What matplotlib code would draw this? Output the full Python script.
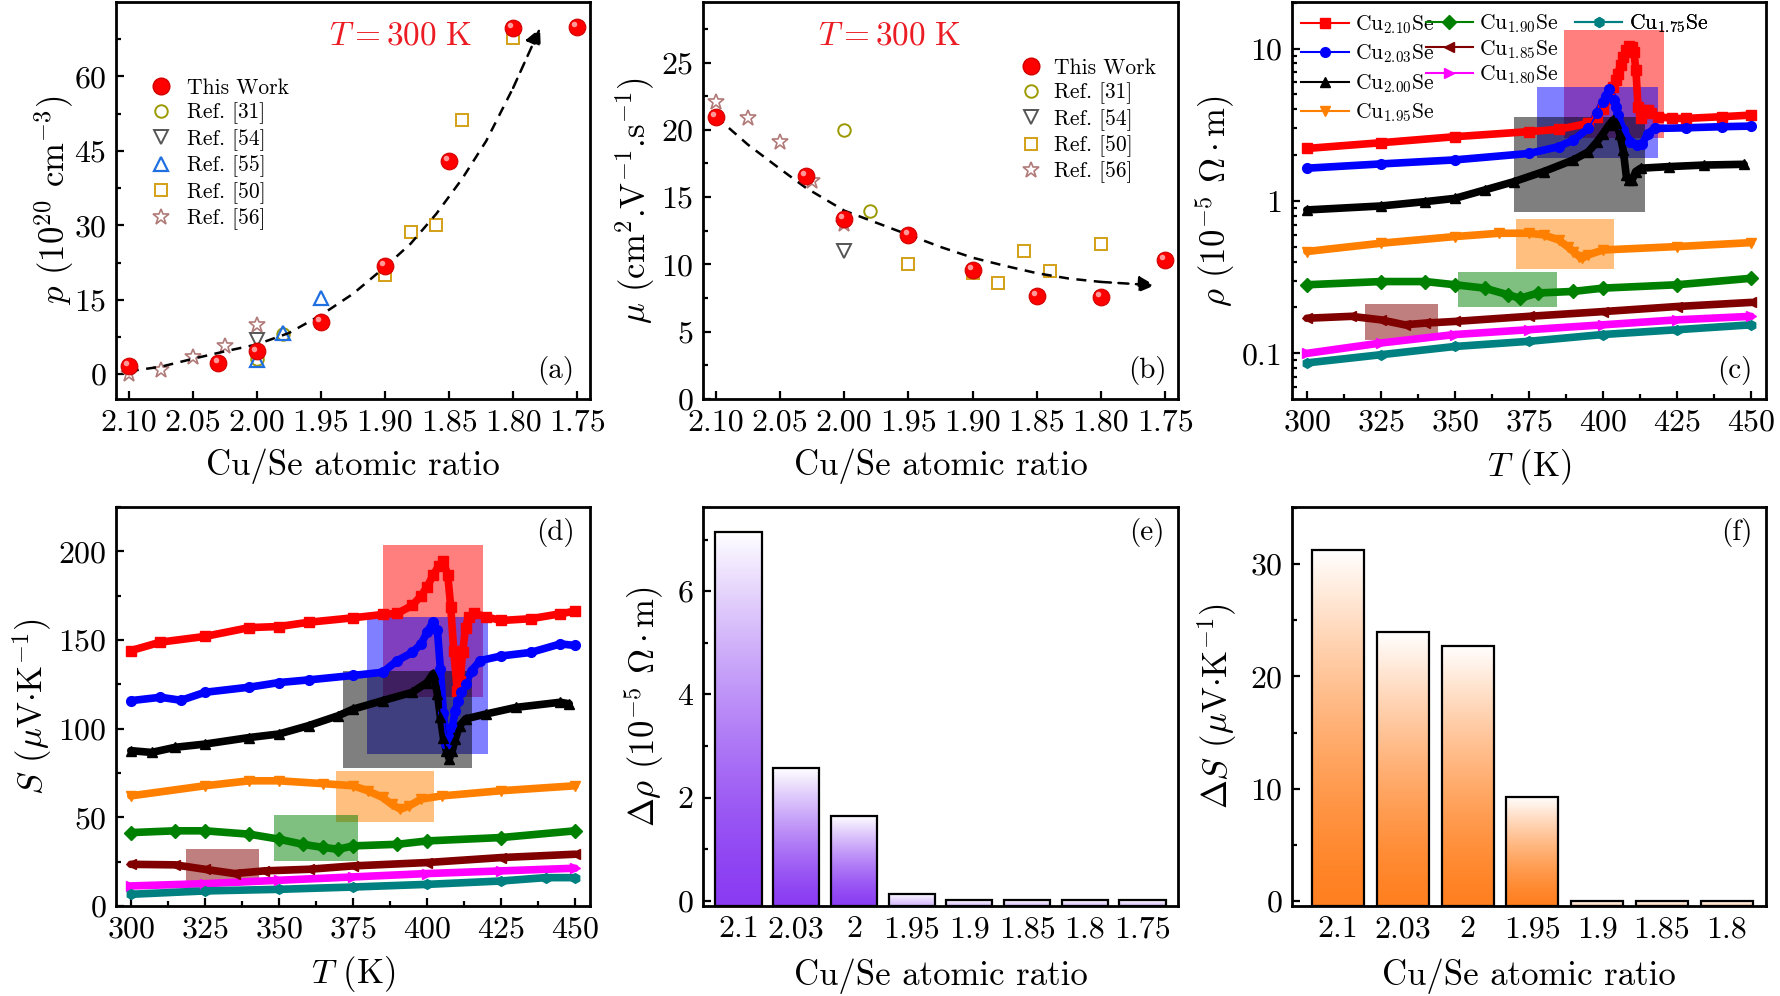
import numpy as np
import matplotlib
matplotlib.use('Agg')
import matplotlib.pyplot as plt
from matplotlib.lines import Line2D
from matplotlib.patches import Rectangle
from matplotlib.colors import to_rgb
from matplotlib.ticker import MultipleLocator, FixedLocator, FuncFormatter, NullFormatter, FormatStrFormatter
from matplotlib.transforms import offset_copy

plt.rcParams['font.family'] = ['cmr10', 'DejaVu Serif']
plt.rcParams['mathtext.fontset'] = 'cm'
plt.rcParams['axes.formatter.use_mathtext'] = True
plt.rcParams['axes.linewidth'] = 2.0
plt.rcParams['axes.unicode_minus'] = False

# ---------------- (a) carrier concentration p at 300 K ----------------
ratio_tw = [2.10, 2.03, 2.00, 1.95, 1.90, 1.85, 1.80, 1.75]
p_tw = [1.7, 2.3, 4.6, 10.5, 21.9, 43.0, 69.8, 70.0]
p31_x, p31_y = [2.00, 1.98], [3.1, 8.0]
p54_x, p54_y = [2.00], [6.8]
p55_x, p55_y = [2.00, 1.98, 1.95], [2.9, 8.3, 15.3]
p50_x, p50_y = [1.90, 1.88, 1.86, 1.84, 1.80], [19.9, 28.6, 30.1, 51.2, 67.8]
p56_x, p56_y = [2.10, 2.075, 2.05, 2.025, 2.00], [0.1, 0.9, 3.5, 5.7, 10.0]
guide_p_x = [2.10, 2.075, 2.05, 2.025, 2.00, 1.975, 1.95, 1.925, 1.90, 1.88, 1.86, 1.84, 1.821, 1.80, 1.779]
guide_p_y = [0.6, 1.5, 3.1, 4.6, 6.0, 8.3, 11.9, 16.2, 21.6, 26.3, 32.3, 39.3, 47.0, 57.7, 69.7]

# ---------------- (b) mobility at 300 K ----------------
mu_tw = [20.97, 16.6, 13.4, 12.17, 9.6, 7.64, 7.57, 10.36]
mu31_x, mu31_y = [2.00, 1.98], [20.0, 14.0]
mu54_x, mu54_y = [2.00], [11.0]
mu50_x, mu50_y = [1.95, 1.90, 1.88, 1.86, 1.84, 1.80], [10.04, 9.35, 8.65, 11.0, 9.5, 11.52]
mu56_x, mu56_y = [2.10, 2.075, 2.05, 2.025, 2.00], [22.08, 20.87, 19.11, 16.2, 13.0]
guide_mu_x = [2.10, 2.087, 2.075, 2.05, 2.03, 2.00, 1.975, 1.95, 1.925, 1.90, 1.875, 1.85, 1.825, 1.80, 1.758]
guide_mu_y = [21.0, 19.9, 18.9, 17.1, 15.7, 14.0, 13.1, 12.2, 11.3, 10.5, 9.9, 9.35, 8.95, 8.7, 8.45]

# ---------------- (c) resistivity vs T ----------------
samples = ['2.10', '2.03', '2.00', '1.95', '1.90', '1.85', '1.80', '1.75']
colors = ['#ff0000', '#0000ff', '#000000', '#ff8000', '#008000', '#800000', '#ff00ff', '#008080']
markers = ['s', 'o', '^', 'v', 'D', '<', '>', 'h']

rho_T = {
    '2.10': [300, 325, 350, 375, 385, 395, 398, 400, 402, 403.3, 404.2, 405, 405.9, 406.8, 407.8, 408.7,
             409.7, 410.4, 411.1, 411.8, 412.7, 413.9, 415.1, 416.3, 418.6, 423.4, 428, 440, 450],
    '2.03': [300, 325, 350, 375, 385, 390, 395, 398, 400, 401, 402.1, 403.8, 404.4, 405, 406.8, 409.2,
             411.5, 413.3, 415.1, 417.4, 428, 440, 450],
    '2.00': [300, 325, 340, 350, 360, 370, 380, 390, 395, 398, 400, 402, 403.3, 404.4, 405.6, 406.8,
             407.8, 408.6, 409.8, 411, 412.7, 422.2, 434, 447.6],
    '1.95': [300, 325, 350, 365, 375, 380, 385, 388, 390, 392, 393, 395, 400, 425, 450],
    '1.90': [300, 325, 340, 350, 360, 368, 372, 378, 390, 400, 425, 450],
    '1.85': [300, 315, 325, 333, 340, 350, 375, 400, 425, 450],
    '1.80': [300, 325, 350, 375, 400, 425, 450],
    '1.75': [300, 325, 350, 375, 400, 425, 450],
}
rho = {
    '2.10': [2.21, 2.41, 2.64, 2.85, 2.95, 3.23, 3.57, 4.04, 4.70, 5.6, 6.2, 6.85, 7.8, 8.8, 9.75, 10.4,
             10.2, 9.5, 7.2, 4.15, 3.48, 3.94, 3.98, 3.75, 3.57, 3.48, 3.48, 3.57, 3.66],
    '2.03': [1.64, 1.75, 1.86, 2.05, 2.27, 2.51, 2.99, 3.75, 4.47, 4.9, 5.4, 4.58, 4.15, 3.66, 2.92, 2.45,
             2.33, 2.38, 2.77, 2.99, 3.02, 3.07, 3.10],
    '2.00': [0.873, 0.927, 0.99, 1.04, 1.18, 1.34, 1.56, 1.86, 2.1, 2.45, 2.77, 3.15, 3.39, 3.23, 2.77, 2.16,
             1.48, 1.37, 1.37, 1.56, 1.64, 1.68, 1.72, 1.74],
    '1.95': [0.466, 0.528, 0.584, 0.614, 0.614, 0.599, 0.555, 0.502, 0.466, 0.432, 0.421, 0.443, 0.477, 0.502, 0.533],
    '1.90': [0.282, 0.296, 0.296, 0.282, 0.268, 0.242, 0.230, 0.249, 0.255, 0.268, 0.282, 0.311],
    '1.85': [0.170, 0.175, 0.166, 0.154, 0.158, 0.162, 0.175, 0.188, 0.203, 0.216],
    '1.80': [0.100, 0.117, 0.133, 0.143, 0.154, 0.166, 0.175],
    '1.75': [0.0866, 0.098, 0.111, 0.120, 0.133, 0.143, 0.154],
}
# shaded transition windows (T0, T1, low, high)
rho_box_T0 = [386.7, 377.8, 370.1, 370.7, 351.0, 319.5]
rho_box_T1 = [420.6, 418.6, 414.1, 403.8, 384.3, 344.3]
rho_box_lo = [2.57, 1.92, 0.843, 0.359, 0.200, 0.1218]
rho_box_hi = [13.3, 5.61, 3.57, 0.762, 0.344, 0.211]

# ---------------- (d) Seebeck vs T ----------------
S_T = {
    '2.10': [300, 310, 325, 340, 350, 360, 375, 385, 390, 395, 398, 400, 402, 404, 405.5, 407, 408, 409,
             410.2, 411.2, 412, 413, 414, 416, 420, 425, 435, 445, 450],
    '2.03': [300, 310, 317, 325, 340, 350, 360, 375, 385, 390, 395, 398, 400, 402, 403.5, 404.5, 405.5,
             406.5, 407.5, 408.5, 409.5, 410.5, 411.5, 413, 415, 418, 425, 435, 445, 450],
    '2.00': [300, 307, 315, 325, 340, 350, 360, 370, 375, 385, 395, 400, 402, 403.5, 404.5, 405.5, 406.5,
             407.5, 408.5, 409.5, 411, 413, 420, 430, 445, 448],
    '1.95': [300, 325, 340, 350, 365, 375, 380, 385, 388, 391, 394, 398, 405, 425, 450],
    '1.90': [300, 315, 325, 340, 350, 358, 365, 370, 375, 390, 400, 425, 450],
    '1.85': [300, 315, 325, 335, 345, 360, 375, 400, 425, 450],
    '1.80': [300, 325, 350, 375, 400, 425, 450],
    '1.75': [300, 325, 350, 375, 400, 425, 440, 450],
}
S = {
    '2.10': [144, 148.8, 152, 157, 157.6, 160, 162.5, 164.4, 165, 169.5, 175, 180, 186.4, 192, 194.5, 186.4,
             168.5, 144, 121.5, 127, 143, 157, 163, 165, 163, 161, 162, 164.8, 166.3],
    '2.03': [115.8, 117.7, 116, 120.5, 123.4, 126, 127.5, 130, 131.8, 138.4, 143, 147.8, 154.4, 160, 155.4,
             133.7, 109, 91.3, 95, 100.7, 110, 115.8, 120.5, 125, 132.8, 138.4, 141, 143, 147.8, 146.9],
    '2.00': [87.6, 86.6, 89.5, 91.3, 95, 97, 101.7, 107.3, 111, 115.8, 120.5, 126, 131, 119.6, 106.4, 95,
             87.6, 82.9, 87.6, 94, 101.7, 105.5, 108.3, 112, 114.9, 114],
    '1.95': [62.1, 67.8, 70.6, 70.6, 69, 67.8, 65, 61.2, 57.4, 54.6, 56.5, 60.3, 62.1, 65, 67.8],
    '1.90': [41.4, 42.4, 42.4, 40.5, 37.7, 34.8, 33, 32, 33.9, 34.8, 36.7, 38.6, 42.4],
    '1.85': [23.5, 23.2, 20.7, 18.3, 19.8, 20.7, 22.6, 24.5, 27.3, 29.2],
    '1.80': [11.3, 12.6, 14.5, 16.4, 18.3, 19.8, 21.3],
    '1.75': [6.6, 8.5, 9.4, 10.7, 12.2, 14.1, 16, 16],
}
S_box_T0 = [385.1, 379.7, 371.5, 369.1, 348.5, 318.6]
S_box_T1 = [418.8, 420.7, 415.3, 402.3, 376.7, 343.2]
S_box_lo = [117.7, 85.7, 77.6, 47.5, 25.4, 13.7]
S_box_hi = [203.4, 162.9, 132.4, 76.3, 51.2, 32.0]

# ---------------- (e), (f) transition amplitudes ----------------
drho_cats = ['2.1', '2.03', '2', '1.95', '1.9', '1.85', '1.8', '1.75']
drho_vals = [7.15, 2.57, 1.645, 0.13, 0.01, 0.01, 0.01, 0.01]
dS_cats = ['2.1', '2.03', '2', '1.95', '1.9', '1.85', '1.8']
dS_vals = [31.25, 23.94, 22.75, 9.27, 0.03, 0.03, 0.03]

TICK_FS = 23
LAB_FS = 25
LEG_FS = 15.5
RED_TXT = '#ec1c24'


def style_axis(ax):
    ax.tick_params(which='both', direction='in', top=False, right=False,
                   labelsize=TICK_FS, width=1.6, pad=7)
    ax.tick_params(which='major', length=6)
    ax.tick_params(which='minor', length=3.5)


def panel_tag(ax, tag, x, y):
    ax.text(x, y, tag, transform=ax.transAxes, fontsize=21, ha='center', va='center')


def sphere(ax, x, y):
    ax.plot(x, y, 'o', ms=12, mfc='#ff0000', mec='#d00000', mew=0.8, ls='none', zorder=6)
    hl = offset_copy(ax.transData, fig=fig, x=-2.0, y=2.0, units='points')
    ax.plot(x, y, 'o', ms=4.0, mfc='white', mec='none', alpha=0.6, ls='none', zorder=7, transform=hl)


def guide(ax, gx, gy):
    ax.plot(gx[:-1], gy[:-1], ls=(0, (4, 3)), color='k', lw=1.8, zorder=4)
    ax.annotate('', xy=(gx[-1], gy[-1]), xytext=(gx[-2], gy[-2]),
                arrowprops=dict(arrowstyle='-|>', color='k', lw=1.8, mutation_scale=24,
                                linestyle=(0, (4, 3)), shrinkA=0, shrinkB=0), zorder=4)


fig = plt.figure(figsize=(17.8, 9.96), dpi=100)
W, H = 1780.0, 996.0


def box(x0, x1, y0, y1):
    return [x0 / W, 1 - y1 / H, (x1 - x0) / W, (y1 - y0) / H]


axa = fig.add_axes(box(116, 590, 2, 399))
axb = fig.add_axes(box(703, 1178, 2, 399))
axc = fig.add_axes(box(1292, 1766, 2, 399))
axd = fig.add_axes(box(116, 590, 507, 906))
axe = fig.add_axes(box(703, 1178, 507, 906))
axf = fig.add_axes(box(1292, 1766, 507, 906))

ref_style = {
    '31': dict(marker='o', mfc='none', mec='#9c9a00', ms=9, mew=1.4),
    '54': dict(marker='v', mfc='none', mec='#555555', ms=10, mew=1.4),
    '55': dict(marker='^', mfc='none', mec='#1f6fe0', ms=10, mew=1.6),
    '50': dict(marker='s', mfc='none', mec='#d4a017', ms=8.5, mew=1.4),
    '56': dict(marker='*', mfc='none', mec='#b07a78', ms=12, mew=1.2),
}

# ---- (a)
ax = axa
guide(ax, guide_p_x, guide_p_y)
ax.plot(p31_x, p31_y, ls='none', zorder=3, **ref_style['31'])
ax.plot(p54_x, p54_y, ls='none', zorder=3, **ref_style['54'])
ax.plot(p55_x, p55_y, ls='none', zorder=3, **ref_style['55'])
ax.plot(p50_x, p50_y, ls='none', zorder=3, **ref_style['50'])
ax.plot(p56_x, p56_y, ls='none', zorder=3, **ref_style['56'])
sphere(ax, ratio_tw, p_tw)
handles = [Line2D([], [], marker='o', ms=12, mfc='#ff0000', mec='#d00000', ls='none')]
labels = ['This Work']
for key in ['31', '54', '55', '50', '56']:
    handles.append(Line2D([], [], ls='none', **ref_style[key]))
    labels.append('Ref. [%s]' % key)
ax.legend(handles, labels, loc='upper left', bbox_to_anchor=(0.045, 0.835), frameon=False,
          fontsize=LEG_FS, handletextpad=0.6, labelspacing=0.22, borderpad=0, handlelength=1.2)
ax.set_xlim(2.11, 1.74)
ax.set_ylim(-5, 75)
ax.xaxis.set_major_locator(MultipleLocator(0.05))
ax.xaxis.set_major_formatter(FormatStrFormatter('%.2f'))
ax.yaxis.set_major_locator(FixedLocator([0, 15, 30, 45, 60]))
ax.yaxis.set_minor_locator(FixedLocator([-7.5, 7.5, 22.5, 37.5, 52.5, 67.5]))
ax.yaxis.set_major_formatter(FormatStrFormatter('%d'))
style_axis(ax)
ax.set_xlabel('Cu/Se atomic ratio', fontsize=LAB_FS, labelpad=9)
ax.set_ylabel(r'$p$ (10$^{20}$ cm$^{-3}$)', fontsize=LAB_FS, labelpad=-1)
ax.text(0.60, 0.915, r'$T = 300\ \mathrm{K}$', transform=ax.transAxes, color=RED_TXT,
        fontsize=24, ha='center', va='center')
panel_tag(ax, '(a)', 0.928, 0.073)

# ---- (b)
ax = axb
guide(ax, guide_mu_x, guide_mu_y)
ax.plot(mu31_x, mu31_y, ls='none', zorder=3, **ref_style['31'])
ax.plot(mu54_x, mu54_y, ls='none', zorder=3, **ref_style['54'])
ax.plot(mu50_x, mu50_y, ls='none', zorder=3, **ref_style['50'])
ax.plot(mu56_x, mu56_y, ls='none', zorder=3, **ref_style['56'])
sphere(ax, ratio_tw, mu_tw)
handles = [Line2D([], [], marker='o', ms=12, mfc='#ff0000', mec='#d00000', ls='none')]
labels = ['This Work']
for key in ['31', '54', '50', '56']:
    handles.append(Line2D([], [], ls='none', **ref_style[key]))
    labels.append('Ref. [%s]' % key)
ax.legend(handles, labels, loc='upper left', bbox_to_anchor=(0.64, 0.886), frameon=False,
          fontsize=LEG_FS, handletextpad=0.5, labelspacing=0.22, borderpad=0, handlelength=1.2)
ax.set_xlim(2.11, 1.74)
ax.set_ylim(0, 29.5)
ax.xaxis.set_major_locator(MultipleLocator(0.05))
ax.xaxis.set_major_formatter(FormatStrFormatter('%.2f'))
ax.yaxis.set_major_locator(MultipleLocator(5))
ax.yaxis.set_minor_locator(MultipleLocator(2.5))
ax.yaxis.set_major_formatter(FormatStrFormatter('%d'))
style_axis(ax)
ax.set_xlabel('Cu/Se atomic ratio', fontsize=LAB_FS, labelpad=9)
ax.set_ylabel(r'$\mu$ (cm$^{2}$.V$^{-1}$.s$^{-1}$)', fontsize=LAB_FS, labelpad=3)
ax.text(0.392, 0.915, r'$T = 300\ \mathrm{K}$', transform=ax.transAxes, color=RED_TXT,
        fontsize=24, ha='center', va='center')
panel_tag(ax, '(b)', 0.935, 0.073)


def draw_curves(ax, Tdict, Vdict, bx0, bx1, blo, bhi):
    for i in range(len(bx0)):
        ax.add_patch(Rectangle((bx0[i], blo[i]), bx1[i] - bx0[i], bhi[i] - blo[i],
                               facecolor=colors[i], edgecolor='none', alpha=0.5, zorder=1))
    for k, c, m in zip(samples, colors, markers):
        ax.plot(Tdict[k], Vdict[k], color=c, lw=5.5, solid_joinstyle='round',
                solid_capstyle='round', zorder=3)
        ax.plot(Tdict[k], Vdict[k], color=c, lw=1.2, marker=m, ms=7, mec=c, zorder=4)


# ---- (c)
ax = axc
draw_curves(ax, rho_T, rho, rho_box_T0, rho_box_T1, rho_box_lo, rho_box_hi)
ax.set_yscale('log')
ax.set_xlim(295, 455)
ax.set_ylim(0.0502, 20.2)
ax.xaxis.set_major_locator(MultipleLocator(25))
ax.xaxis.set_minor_locator(MultipleLocator(12.5))
ax.yaxis.set_major_locator(FixedLocator([0.1, 1, 10]))
ax.yaxis.set_major_formatter(FuncFormatter(lambda v, pos: {0.1: '0.1', 1: '1', 10: '10'}.get(round(v, 3), '')))
ax.yaxis.set_minor_formatter(NullFormatter())
style_axis(ax)
ax.set_xlabel(r'$T$ (K)', fontsize=LAB_FS, labelpad=8)
ax.set_ylabel(r'$\rho$ (10$^{-5}$ $\Omega\cdot$m)', fontsize=LAB_FS, labelpad=3)
panel_tag(ax, '(c)', 0.935, 0.073)
groups = [[0, 1, 2, 3], [4, 5, 6], [7]]
anchors = [(-0.012, 1.01), (0.25, 1.012), (0.565, 1.012)]
spacing = [0.32, 0.14, 0.14]
for g, anc, sp in zip(groups, anchors, spacing):
    hs = [Line2D([], [], color=colors[i], marker=markers[i], ms=7, lw=1.5) for i in g]
    ls = [r'Cu$_{%s}$Se' % samples[i] for i in g]
    leg = ax.legend(hs, ls, loc='upper left', bbox_to_anchor=anc, frameon=False, fontsize=LEG_FS,
                    handlelength=2.2, handletextpad=0.3, labelspacing=sp, borderpad=0.2)
    ax.add_artist(leg)

# ---- (d)
ax = axd
draw_curves(ax, S_T, S, S_box_T0, S_box_T1, S_box_lo, S_box_hi)
ax.set_xlim(295, 455)
ax.set_ylim(0, 225)
ax.xaxis.set_major_locator(MultipleLocator(25))
ax.xaxis.set_minor_locator(MultipleLocator(12.5))
ax.yaxis.set_major_locator(MultipleLocator(50))
ax.yaxis.set_minor_locator(MultipleLocator(25))
ax.yaxis.set_major_formatter(FormatStrFormatter('%d'))
style_axis(ax)
ax.set_xlabel(r'$T$ (K)', fontsize=LAB_FS, labelpad=8)
ax.set_ylabel(r'$S$ ($\mu$V$\cdot$K$^{-1}$)', fontsize=LAB_FS, labelpad=3)
panel_tag(ax, '(d)', 0.928, 0.935)


def gradient_bars(ax, cats, vals, color, ylo, yhi):
    x = np.arange(len(cats))
    vals = np.asarray(vals)
    bars = ax.bar(x, vals - ylo, bottom=ylo, width=0.8, facecolor='none', edgecolor='k',
                  lw=1.6, zorder=3)
    base = np.array(to_rgb(color))
    g = np.linspace(0, 1, 256)[:, None, None]
    for b, v in zip(bars, vals):
        strength = min(1.0, 0.3 + 3 * v / vals.max())
        t = 1 - strength * (1 - g ** 1.4)
        img = base + (1 - base) * t
        img = np.repeat(img, 2, axis=1)
        im = ax.imshow(img, extent=(b.get_x(), b.get_x() + b.get_width(), ylo, b.get_y() + b.get_height()),
                       origin='lower', aspect='auto', zorder=2, interpolation='bilinear')
        im.set_clip_path(b)
    ax.set_xticks(x)
    ax.set_xticklabels(cats)
    ax.set_ylim(ylo, yhi)


# ---- (e)
ax = axe
gradient_bars(ax, drho_cats, drho_vals, '#8a3cf2', -0.1, 7.63)
ax.set_xlim(-0.615, 7.615)
ax.yaxis.set_major_locator(MultipleLocator(2))
ax.yaxis.set_minor_locator(MultipleLocator(1))
ax.yaxis.set_major_formatter(FormatStrFormatter('%d'))
style_axis(ax)
ax.tick_params(axis='x', which='both', length=0, pad=7)
ax.set_xlabel('Cu/Se atomic ratio', fontsize=LAB_FS, labelpad=11)
ax.set_ylabel(r'$\Delta\rho$ (10$^{-5}$ $\Omega\cdot$m)', fontsize=LAB_FS, labelpad=8)
panel_tag(ax, '(e)', 0.935, 0.935)

# ---- (f)
ax = axf
gradient_bars(ax, dS_cats, dS_vals, '#ff8020', -0.45, 35.1)
ax.set_xlim(-0.711, 6.606)
ax.yaxis.set_major_locator(MultipleLocator(10))
ax.yaxis.set_minor_locator(MultipleLocator(5))
ax.yaxis.set_major_formatter(FormatStrFormatter('%d'))
style_axis(ax)
ax.tick_params(axis='x', which='both', length=0, pad=7)
ax.set_xlabel('Cu/Se atomic ratio', fontsize=LAB_FS, labelpad=11)
ax.set_ylabel(r'$\Delta S$ ($\mu$V$\cdot$K$^{-1}$)', fontsize=LAB_FS, labelpad=8)
panel_tag(ax, '(f)', 0.939, 0.935)

fig.savefig('out.png', dpi=100)
